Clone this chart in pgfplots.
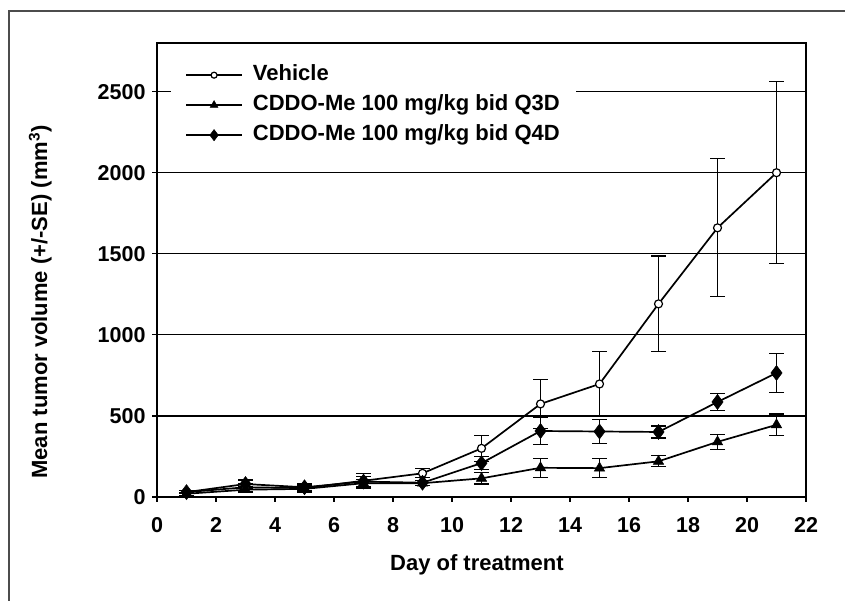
\documentclass[border=0pt]{standalone}
\usepackage{fontspec}
\setmainfont{Liberation Sans}
\usepackage{pgfplots}
\pgfplotsset{compat=1.18}
\pgfplotstableread{
x y e
1 30 10
3 60 25
5 55 20
7 100 45
9 146 27
11 300 80
13 574 150
15 697 200
17 1191 295
19 1660 425
21 2000 560
}\vehicle
\pgfplotstableread{
x y e
1 20 8
3 45 20
5 50 20
7 85 25
9 85 15
11 115 35
13 180 60
15 178 57
17 220 34
19 340 46
21 445 67
}\qthree
\pgfplotstableread{
x y e
1 30 10
3 80 25
5 60 20
7 95 30
9 88 15
11 209 40
13 407 85
15 404 75
17 401 37
19 586 50
21 765 118
}\qfour
\begin{document}
\begin{tikzpicture}[x=1bp,y=1bp]
\useasboundingbox (0,0) rectangle (845,601);
\draw[line width=1.2bp, color=black!70] (9,0) -- (9,590) -- (846,590);
\begin{axis}[
  at={(157bp,104bp)}, anchor=south west, scale only axis,
  width=649bp, height=454bp,
  xmin=0, xmax=22, ymin=0, ymax=2800,
  xtick={0,2,...,22}, ytick={0,500,...,2500},
  xtick pos=bottom, ytick pos=left,
  tick align=outside, major tick length=5bp,
  tick style={black, line width=1.3bp},
  axis line style={line width=1.3bp},
  ymajorgrids, grid style={black, line width=1.3bp},
  /pgf/number format/assume math mode=true,
  /pgf/number format/set thousands separator={},
  ticklabel style={font=\fontsize{21.5bp}{25bp}\selectfont\bfseries},
  xticklabel style={yshift=-12bp},
  yticklabel style={xshift=-3bp},
  xlabel={Day of treatment},
  ylabel={Mean tumor volume (+/-SE) (mm\textsuperscript{3})},
  label style={font=\fontsize{22bp}{26bp}\selectfont\bfseries},
  xlabel style={at={(axis description cs:0.493,-0.15)}, anchor=center},
  ylabel style={at={(axis description cs:-0.18,0.4295)}, anchor=center, rotate=0},
  legend style={at={(axis description cs:0.0216,0.9637)}, anchor=north west,
    draw=none, fill=white, inner xsep=14bp, inner ysep=4bp,
    font=\fontsize{22bp}{26bp}\selectfont\bfseries,
    nodes={inner sep=2bp, text height=15bp, text depth=4bp},
    row sep=7bp,
    /tikz/every odd column/.append style={column sep=8bp}},
  legend cell align=left,
  legend image code/.code={
    \draw[every mark/.append style={scale=0.75}, mark repeat=2, mark phase=2]
      plot coordinates {(0bp,0bp) (28bp,0bp) (56bp,0bp)};},
  every axis plot/.append style={line width=1.7bp},
]
\addplot[black, mark=*, mark size=4bp, mark options={fill=white, draw=black, line width=1.2bp},
  error bars/.cd, y dir=both, y explicit,
  error bar style={line width=1.1bp},
  error mark options={rotate=90, mark size=7.5bp, line width=1.1bp}]
  table[x=x, y=y, y error=e] {\vehicle};
\addlegendentry{Vehicle}
\addplot[black, mark=triangle*, mark size=6bp, mark options={fill=black, line width=0.5bp},
  error bars/.cd, y dir=both, y explicit,
  error bar style={line width=1.1bp},
  error mark options={rotate=90, mark size=7.5bp, line width=1.1bp}]
  table[x=x, y=y, y error=e] {\qthree};
\addlegendentry{CDDO-Me 100 mg/kg bid Q3D}
\addplot[black, mark=diamond*, mark size=7.5bp, mark options={fill=black, line width=0.5bp},
  error bars/.cd, y dir=both, y explicit,
  error bar style={line width=1.1bp},
  error mark options={rotate=90, mark size=7.5bp, line width=1.1bp}]
  table[x=x, y=y, y error=e] {\qfour};
\addlegendentry{CDDO-Me 100 mg/kg bid Q4D}
\end{axis}
\end{tikzpicture}
\end{document}
